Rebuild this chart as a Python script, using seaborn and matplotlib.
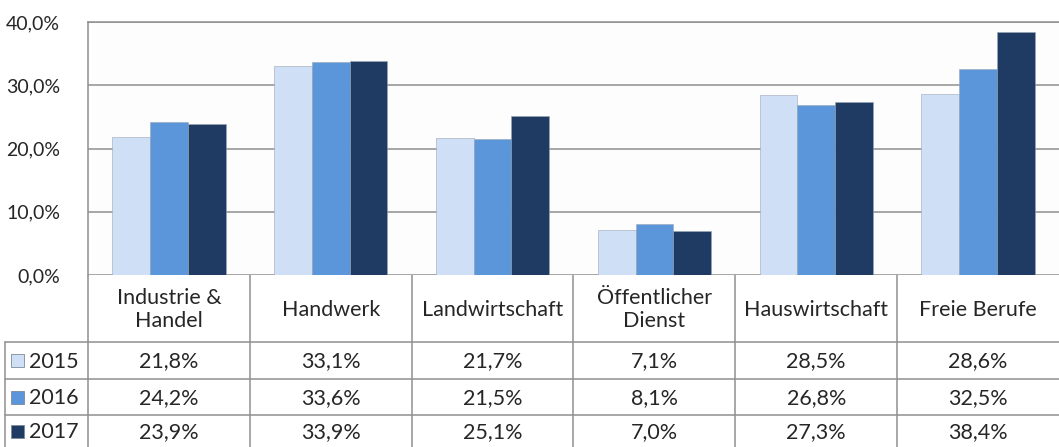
import matplotlib
matplotlib.use("Agg")
import matplotlib.pyplot as plt
import seaborn as sns
import pandas as pd

# Data
categories = ["Industrie &\nHandel", "Handwerk", "Landwirtschaft",
              "Öffentlicher\nDienst", "Hauswirtschaft", "Freie Berufe"]
years = ["2015", "2016", "2017"]
v2015 = [21.8, 33.1, 21.7, 7.1, 28.5, 28.6]
v2016 = [24.2, 33.6, 21.5, 8.1, 26.8, 32.5]
v2017 = [23.9, 33.9, 25.1, 7.0, 27.3, 38.4]
yticks = [0, 10, 20, 30, 40]

colors = ["#cfe0f6", "#5b95da", "#1f3b63"]
grid_c = "#8f8f8f"
fs_tick = 14
fs = 15.5

sns.set_style("white")
plt.rcParams['font.family'] = ['Lato', 'DejaVu Sans']

df = pd.DataFrame({
    "cat": categories * 3,
    "year": [y for y in years for _ in categories],
    "val": v2015 + v2016 + v2017,
})

W, H = 1059, 447
fig = plt.figure(figsize=(W / 100, H / 100), dpi=100)

# plot area in pixels: left 88, top 22, bottom 275
x0, y_top, y0 = 88, 22, 275
ax = fig.add_axes([x0 / W, (H - y0) / H, (W - x0) / W, (y0 - y_top) / H])
sns.barplot(data=df, x="cat", y="val", hue="year", palette=colors,
            width=0.7, gap=0, ax=ax, legend=False, saturation=1,
            edgecolor="#9aa6b5", linewidth=0.4)

ax.set_xlim(-0.5, len(categories) - 0.5)
ax.set_ylim(0, 40)
ax.set_yticks(yticks)
ax.set_yticklabels([f"{t:.1f}%".replace(".", ",") for t in yticks], fontsize=fs_tick)
ax.tick_params(axis="y", length=0, pad=20)
ax.set_xticks([])
ax.set_xlabel("")
ax.set_ylabel("")
for t in yticks:
    ax.axhline(t, color=grid_c, lw=1.1, zorder=0)
for s in ["right", "bottom"]:
    ax.spines[s].set_visible(False)
for s in ["left", "top"]:
    ax.spines[s].set_color(grid_c)
    ax.spines[s].set_linewidth(1.1)
ax.set_facecolor("#fdfdfd")

# Data table below the plot (pixel coords, y measured down from plot bottom)
th = H - y0
tax = fig.add_axes([0, 0, 1, th / H])
tax.set_xlim(0, W)
tax.set_ylim(th, 0)
tax.axis("off")
tax.patch.set_alpha(0)

row_y = [0, 67, 104, 140, th]


def to_px(xd):
    return ax.transData.transform((xd, 0))[0]


edges = [to_px(i - 0.5) for i in range(len(categories) + 1)]
edges[-1] = W

lk = dict(color=grid_c, lw=1.1)
for e in edges[:-1]:
    tax.plot([e, e], [0, th], **lk)
tax.plot([5, 5], [row_y[1], th], **lk)
for r in row_y[1:4]:
    tax.plot([5, W], [r, r], **lk)

for i, c in enumerate(categories):
    cx = (edges[i] + edges[i + 1]) / 2
    tax.text(cx, row_y[1] / 2 + 1, c, ha="center", va="center",
             fontsize=fs, linespacing=1.15)

series = [v2015, v2016, v2017]
for j, (yr, vals) in enumerate(zip(years, series)):
    cy = (row_y[j + 1] + row_y[j + 2]) / 2
    tax.add_patch(plt.Rectangle((11, cy - 6.5), 13, 13, color=colors[j],
                                ec="#7d8a99", lw=0.6))
    tax.text(29, cy + 1, yr, ha="left", va="center", fontsize=fs)
    for i, v in enumerate(vals):
        cx = (edges[i] + edges[i + 1]) / 2
        tax.text(cx, cy + 1, f"{v:.1f}%".replace(".", ","), ha="center",
                 va="center", fontsize=fs)

fig.savefig("out.png", dpi=100)
